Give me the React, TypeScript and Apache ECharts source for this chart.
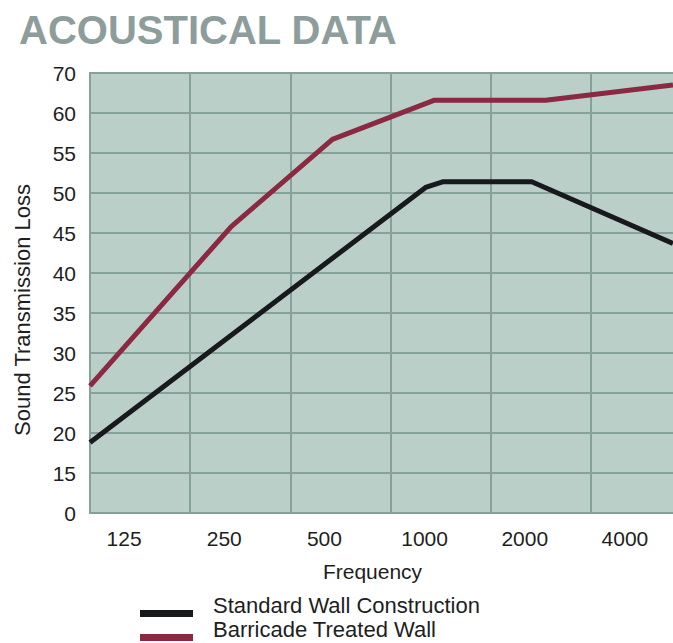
import React, { useEffect, useRef } from "react";
import * as echarts from "echarts";

// Frequency bands (x-axis categories)
const frequencies = ["125", "250", "500", "1000", "2000", "4000"];
// Y tick labels of the (broken) scale: bottom tick is "0", top tick is "70"
const yTickLabels: Record<number, string> = { 10: "0", 65: "70" };

// Series values: [x position in grid columns, sound transmission loss on the chart scale]
const standardWall: [number, number][] = [
  [0, 18.8],
  [3.35, 50.7],
  [3.52, 51.4],
  [4.41, 51.4],
  [5.82, 43.7],
];
const barricadeWall: [number, number][] = [
  [0, 25.9],
  [1.41, 45.8],
  [2.42, 56.7],
  [3.44, 61.6],
  [4.55, 61.6],
  [5.82, 63.5],
];

const seriesNames = ["Standard Wall Construction", "Barricade Treated Wall"];
const FONT = "'Liberation Sans', Arial, Helvetica, sans-serif";
const GRID_COLOR = "#86a09a";
const TEXT_COLOR = "#1e1e1e";

export default function App() {
  const ref = useRef<HTMLDivElement>(null);
  useEffect(() => {
    if (!ref.current) return;
    const chart = echarts.init(ref.current, null, { renderer: "svg" });
    chart.setOption({
      animation: false,
      backgroundColor: "#ffffff",
      textStyle: { fontFamily: FONT },
      title: {
        text: "ACOUSTICAL DATA",
        left: 14,
        top: 5,
        textStyle: { fontFamily: FONT, fontSize: 40, fontWeight: "bold", color: "#8d9d9c" },
      },
      legend: {
        orient: "vertical",
        left: 140,
        top: 593,
        height: 80,
        padding: 0,
        itemWidth: 53,
        itemHeight: 26,
        itemGap: 0,
        selectedMode: false,
        icon: "path://M0,0 M0,17 L53,17 L53,24 L0,24 Z",
        data: seriesNames,
        textStyle: { fontFamily: FONT, fontSize: 22, color: TEXT_COLOR, padding: [0, 0, 0, 15] },
      },
      grid: {
        left: 90,
        top: 73,
        right: 0,
        bottom: 130,
        show: true,
        backgroundColor: "#b9cfc8",
        borderColor: GRID_COLOR,
        borderWidth: 2,
      },
      xAxis: [
        {
          type: "value",
          min: 0,
          max: 6,
          interval: 1,
          axisLine: { show: true, lineStyle: { color: GRID_COLOR, width: 2 } },
          axisTick: { show: false },
          axisLabel: { show: false },
          splitLine: { show: true, lineStyle: { color: GRID_COLOR, width: 2 } },
          name: "Frequency",
          nameLocation: "middle",
          nameGap: 48,
          nameTextStyle: { fontFamily: FONT, fontSize: 21, color: TEXT_COLOR, padding: [0, 36, 0, 0] },
        },
        {
          type: "category",
          data: frequencies,
          position: "bottom",
          boundaryGap: true,
          axisLine: { show: false },
          axisTick: { show: false },
          splitLine: { show: false },
          axisLabel: {
            fontFamily: FONT,
            fontSize: 21,
            color: TEXT_COLOR,
            margin: 15,
            padding: [0, 32, 0, 0],
          },
        },
      ],
      yAxis: {
        type: "value",
        min: 10,
        max: 65,
        interval: 5,
        axisLine: { show: true, lineStyle: { color: GRID_COLOR, width: 2 } },
        axisTick: { show: false },
        splitLine: { show: true, lineStyle: { color: GRID_COLOR, width: 2 } },
        axisLabel: {
          fontFamily: FONT,
          fontSize: 21,
          color: TEXT_COLOR,
          margin: 14,
          formatter: (v: number) => yTickLabels[v] ?? String(v),
        },
        name: "Sound Transmission Loss",
        nameLocation: "middle",
        nameGap: 57,
        nameTextStyle: { fontFamily: FONT, fontSize: 22, color: TEXT_COLOR, padding: [0, 34, 0, 0] },
      },
      series: [
        {
          name: seriesNames[0],
          type: "line",
          xAxisIndex: 0,
          data: standardWall,
          showSymbol: false,
          symbol: "none",
          lineStyle: { color: "#17191d", width: 5 },
          itemStyle: { color: "#17191d" },
          z: 3,
        },
        {
          name: seriesNames[1],
          type: "line",
          xAxisIndex: 0,
          data: barricadeWall,
          showSymbol: false,
          symbol: "none",
          lineStyle: { color: "#8b2942", width: 5 },
          itemStyle: { color: "#8b2942" },
          z: 3,
        },
      ],
    });
    return () => chart.dispose();
  }, []);
  return (
    <div style={{ position: "fixed", left: 0, top: 0, width: 673, height: 643, overflow: "hidden" }}>
      <div ref={ref} style={{ width: 691, height: 643 }} />
    </div>
  );
}
